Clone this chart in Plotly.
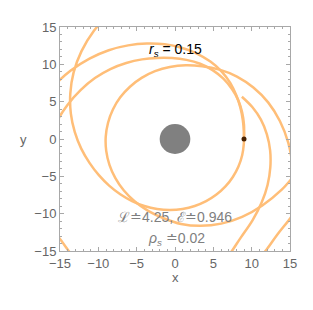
import numpy as np
import plotly.graph_objects as go

# ---- orbit pieces, as polar readings (angle in degrees, radius in plot units) ----
beta_deg = [116, 126, 136, 146, 156, 166, 176, 186, 196, 206, 216, 226, 236, 246, 256, 266, 276, 286,
            296, 306, 316, 326, 336, 346, 356, 366, 376, 386, 396, 406, 416, 426, 436, 446, 456, 466,
            476, 486, 496, 506, 516, 526]
beta_r = [19.0, 17.95, 16.95, 15.95, 14.95, 14.0, 13.1, 12.3, 11.6, 11.05, 10.62, 10.28, 10.02, 9.82,
          9.66, 9.53, 9.42, 9.33, 9.26, 9.2, 9.15, 9.1, 9.06, 9.03, 9.0, 9.04, 9.2, 9.5, 9.9, 10.4,
          10.9, 11.35, 11.8, 12.25, 12.75, 13.3, 13.95, 14.7, 15.5, 16.4, 17.35, 18.4]

u2_deg = [2, 12, 22, 32, 42, 52, 62, 72, 82, 92, 102, 112, 122, 132, 142, 152, 162, 172, 180]
u2_r = [9.0, 9.2, 9.45, 9.75, 10.0, 10.25, 10.45, 10.6, 10.7, 10.85, 11.1, 11.5, 12.0, 12.6, 13.25,
        13.95, 14.75, 15.65, 16.4]

gam_deg = [-14, -2, 10, 22, 34, 46, 58, 70, 82, 94, 106, 118, 130, 142, 154, 166, 178, 190, 202, 214,
           226, 238, 250, 262, 274, 286, 298, 310, 322, 334, 344]
gam_r = [15.87, 14.79, 13.89, 13.1, 12.33, 11.63, 10.95, 10.37, 9.98, 9.68, 9.45, 9.27, 9.14, 9.06,
         9.01, 9.0, 9.04, 9.11, 9.22, 9.38, 9.6, 9.88, 10.24, 10.72, 11.41, 12.1, 12.84, 13.62, 14.45,
         15.49, 16.46]

alp_deg = [33, 23, 13, 3, -7, -17, -27, -37, -47, -57, -67, -74]
alp_r = [10.4, 10.95, 11.5, 12.0, 12.5, 13.0, 13.55, 14.15, 14.85, 15.75, 17.3, 18.4]

eps_deg = [-28, -36, -44, -52, -60]
eps_r = [18.55, 18.4, 18.5, 19.1, 19.8]

sm_deg = [214, 221, 227, 233]
sm_r = [20.3, 20.1, 20.4, 20.9]

start_x = [9.0]
start_y = [0.0]
hole_r = 2.0

x_ticks = [-15, -10, -5, 0, 5, 10, 15]
y_ticks = [-15, -10, -5, 0, 5, 10, 15]

pieces = [(beta_deg, beta_r), (u2_deg, u2_r), (gam_deg, gam_r),
          (alp_deg, alp_r), (eps_deg, eps_r), (sm_deg, sm_r)]

orbit_color = "#ffbe78"
fig = go.Figure()
for deg, rad in pieces:
    t = np.radians(np.array(deg, dtype=float))
    r = np.array(rad, dtype=float)
    fig.add_trace(go.Scatter(x=r * np.cos(t), y=r * np.sin(t), mode="lines",
                             line=dict(color=orbit_color, width=2.5, shape="spline", smoothing=1.0),
                             hoverinfo="skip", showlegend=False))

fig.add_trace(go.Scatter(x=start_x, y=start_y, mode="markers",
                         marker=dict(color="#4a2200", size=5), showlegend=False))

fig.add_shape(type="circle", xref="x", yref="y", x0=-hole_r, y0=-hole_r, x1=hole_r, y1=hole_r,
              fillcolor="#808080", line=dict(width=0), layer="below")

axis_common = dict(range=[-15, 15], showgrid=False, zeroline=False, showline=True,
                   linecolor="#a8a8a8", linewidth=1, mirror="allticks",
                   ticks="inside", ticklen=4, tickcolor="#a8a8a8", tickwidth=1,
                   tickfont=dict(family="Liberation Sans, Arial", size=13, color="#666666"),
                   minor=dict(dtick=1, ticks="inside", ticklen=2, tickcolor="#a8a8a8"))

fig.update_xaxes(tickvals=x_ticks, **axis_common)
fig.update_yaxes(tickvals=y_ticks, **axis_common)

fig.add_annotation(x=0, y=11.9, xref="x", yref="y", showarrow=False,
                   text="<i>r</i><sub><i>s</i></sub> = 0.15",
                   font=dict(family="Liberation Sans, Arial", size=14, color="black"))
fig.add_annotation(x=0, y=-10.5, xref="x", yref="y", showarrow=False,
                   text="ℒ≐4.25, ℰ≐0.946",
                   font=dict(family="Liberation Sans, Arial", size=14, color="#7f7f7f"))
fig.add_annotation(x=0.2, y=-13.4, xref="x", yref="y", showarrow=False,
                   text="<i>ρ</i><sub><i>s</i></sub> ≐0.02",
                   font=dict(family="Liberation Sans, Arial", size=14, color="#7f7f7f"))
fig.add_annotation(x=0.5, y=-0.162, xref="paper", yref="paper", showarrow=False, text="x",
                   font=dict(family="Liberation Sans, Arial", size=13, color="#666666"))
fig.add_annotation(x=-0.183, y=0.5, xref="paper", yref="paper", showarrow=False, text="y",
                   font=dict(family="Liberation Sans, Arial", size=13, color="#666666"))

# the page body has an 8px default margin, so the margins are shifted to keep the frame in place
fig.update_layout(width=313, height=310, margin=dict(l=52, r=31, t=14, b=67),
                  plot_bgcolor="white", paper_bgcolor="white", showlegend=False)

fig.write_html("out.html")
